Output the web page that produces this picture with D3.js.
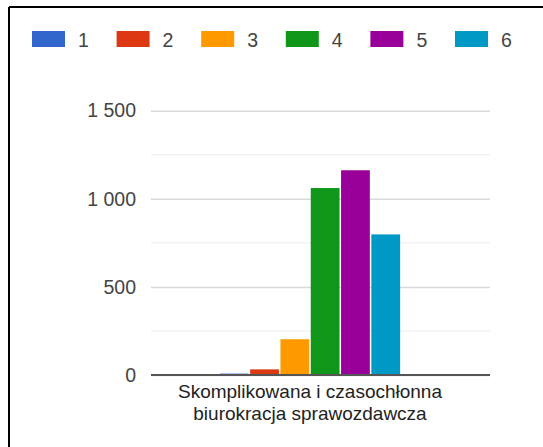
<!DOCTYPE html>
<html>
<head>
<meta charset="utf-8">
<script src="https://cdn.jsdelivr.net/npm/d3@7"></script>
<style>
  html, body { margin: 0; padding: 0; background: #fff; }
  svg { display: block; font-family: "Liberation Sans", Arial, sans-serif; }
</style>
</head>
<body>
<svg id="chart" width="543" height="447"></svg>
<script>
const categories = ["Skomplikowana i czasochłonna biurokracja sprawozdawcza"];
const categoryLines = ["Skomplikowana i czasochłonna", "biurokracja sprawozdawcza"];
const seriesNames = ["1", "2", "3", "4", "5", "6"];
const seriesColors = ["#3366cc", "#dc3912", "#ff9900", "#109618", "#990099", "#0099c6"];
const values = [8, 32, 203, 1061, 1162, 798];
const yTicks = [0, 500, 1000, 1500];
const yTickLabels = ["0", "500", "1 000", "1 500"];
const yMinorTicks = [250, 750, 1250];

const svg = d3.select("#chart");

// frame
svg.append("line").attr("x1", 9).attr("x2", 543).attr("y1", 7).attr("y2", 7)
  .attr("stroke", "#000").attr("stroke-width", 2);
svg.append("line").attr("x1", 9).attr("x2", 9).attr("y1", 7).attr("y2", 447)
  .attr("stroke", "#000").attr("stroke-width", 2);

const plotLeft = 151, plotRight = 490;
const y = d3.scaleLinear().domain([0, 1500]).range([375, 110.7]);

const x0 = d3.scaleBand().domain(categories).range([151, 469]).paddingInner(0).paddingOuter(0.382);
const x1 = d3.scaleBand().domain(seriesNames).range([0, x0.bandwidth()]).paddingInner(0.05).paddingOuter(0);

// minor gridlines
svg.append("g").selectAll("line").data(yMinorTicks).join("line")
  .attr("x1", plotLeft).attr("x2", plotRight)
  .attr("y1", d => y(d)).attr("y2", d => y(d))
  .attr("stroke", "#ececec").attr("stroke-width", 1);

// major gridlines + labels via axis
const yAxis = d3.axisLeft(y).tickValues(yTicks)
  .tickFormat((d, i) => yTickLabels[yTicks.indexOf(d)])
  .tickSize(-(plotRight - plotLeft)).tickPadding(15);
const gy = svg.append("g").attr("transform", `translate(${plotLeft},0)`).call(yAxis);
gy.select(".domain").remove();
gy.selectAll(".tick line").attr("stroke", "#d9d9d9").attr("stroke-width", 1.5);
gy.selectAll(".tick text").attr("fill", "#444").style("font-size", "19.5px")
  .attr("font-family", "Liberation Sans, Arial, sans-serif");

// bars
const groups = svg.append("g").selectAll("g").data(categories).join("g")
  .attr("transform", d => `translate(${x0(d)},0)`);
groups.selectAll("rect").data(seriesNames.map((s, i) => ({s, v: values[i], c: seriesColors[i]})))
  .join("rect")
  .attr("x", d => x1(d.s))
  .attr("width", x1.bandwidth())
  .attr("y", d => y(d.v))
  .attr("height", d => y(0) - y(d.v))
  .attr("fill", d => d.c);

// baseline
svg.append("line").attr("x1", plotLeft).attr("x2", plotRight)
  .attr("y1", y(0)).attr("y2", y(0))
  .attr("stroke", "#555").attr("stroke-width", 2);

// category label
const cx = x0(categories[0]) + x0.bandwidth() / 2;
svg.append("text").attr("x", cx).attr("y", 398).attr("text-anchor", "middle")
  .attr("fill", "#222").style("font-size", "19px")
  .selectAll("tspan").data(categoryLines).join("tspan")
  .attr("x", cx).attr("dy", (d, i) => i === 0 ? 0 : 22).text(d => d);

// legend
const legendX0 = 32, legendStep = 84.6;
const lg = svg.append("g").selectAll("g").data(seriesNames).join("g")
  .attr("transform", (d, i) => `translate(${legendX0 + i * legendStep},31)`);
lg.append("rect").attr("width", 33).attr("height", 16).attr("fill", (d, i) => seriesColors[i]);
lg.append("text").attr("x", 46).attr("y", 15.5).attr("fill", "#444")
  .style("font-size", "19.5px").text(d => d);
</script>
</body>
</html>
